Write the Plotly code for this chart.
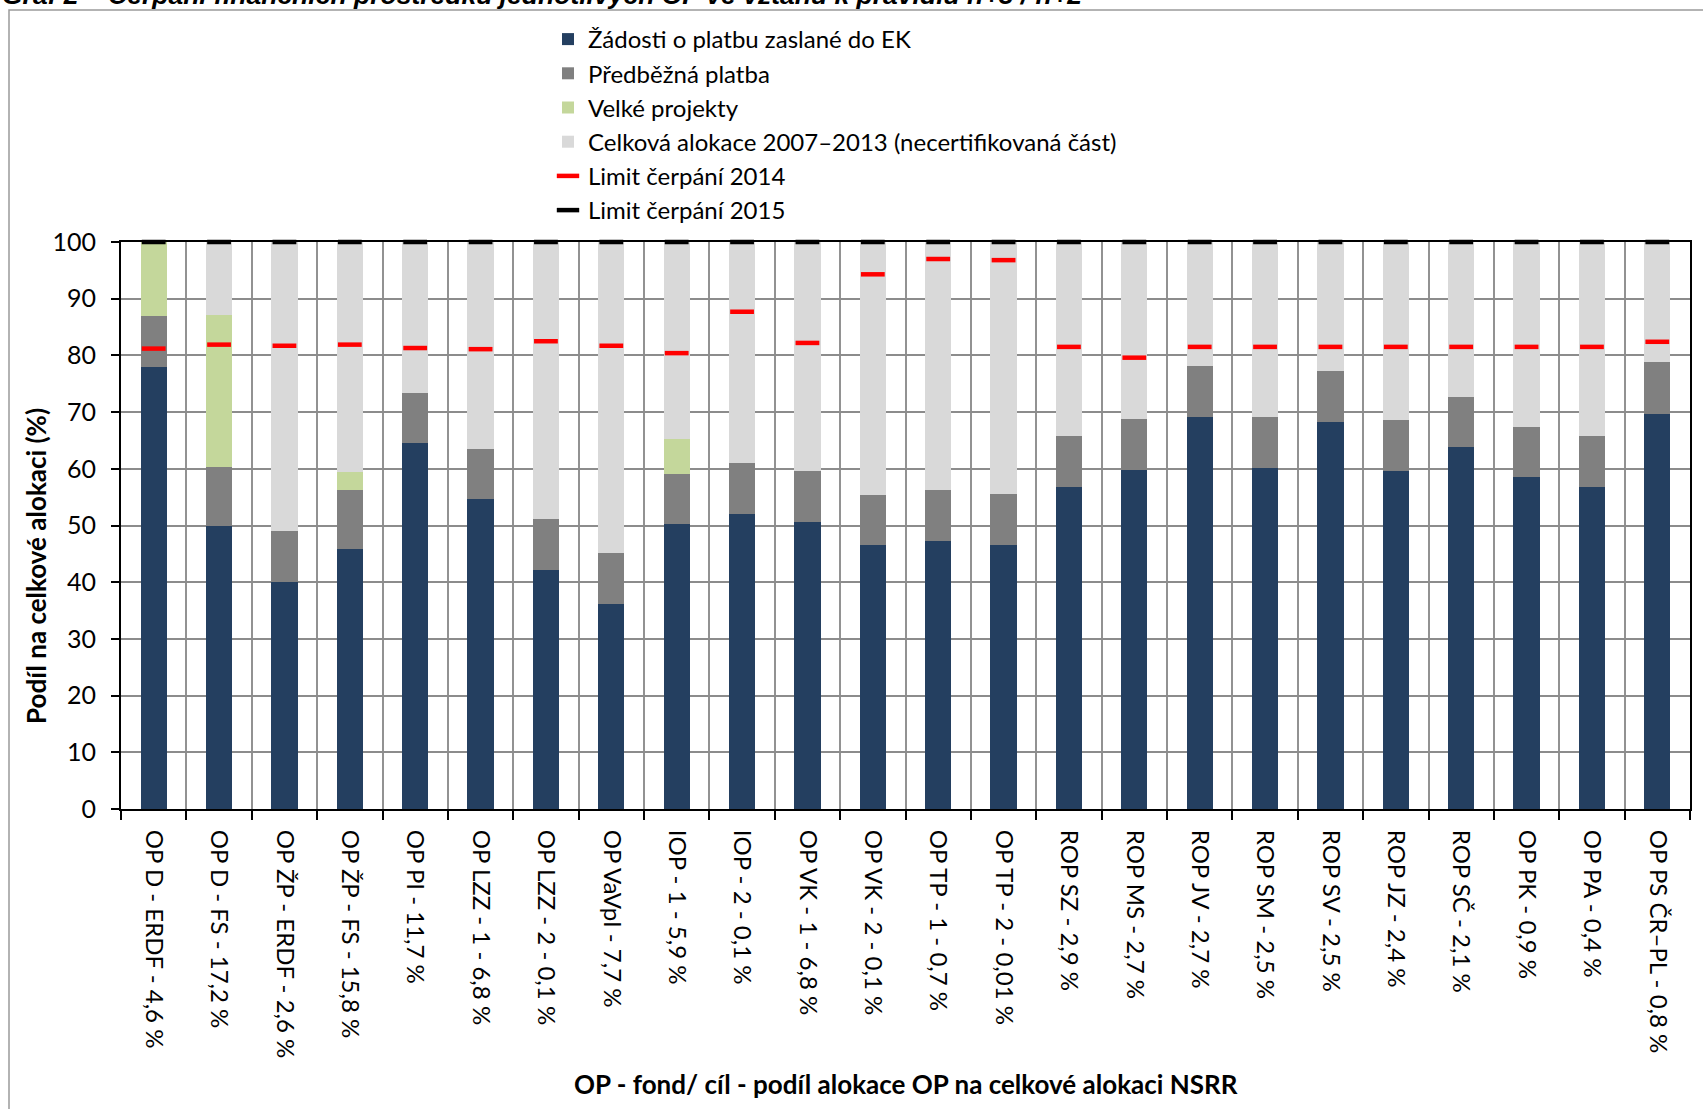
import plotly.graph_objects as go

categories = [
    "OP D - ERDF - 4,6 %", "OP D - FS - 17,2 %", "OP ŽP - ERDF - 2,6 %", "OP ŽP - FS - 15,8 %",
    "OP PI - 11,7 %", "OP LZZ - 1 - 6,8 %", "OP LZZ - 2 - 0,1 %", "OP VaVpI - 7,7 %",
    "IOP - 1 - 5,9 %", "IOP - 2 - 0,1 %", "OP VK - 1 - 6,8 %", "OP VK - 2 - 0,1 %",
    "OP TP - 1 - 0,7 %", "OP TP - 2 - 0,01 %", "ROP SZ - 2,9 %", "ROP MS - 2,7 %",
    "ROP JV - 2,7 %", "ROP SM - 2,5 %", "ROP SV - 2,5 %", "ROP JZ - 2,4 %",
    "ROP SČ - 2,1 %", "OP PK - 0,9 %", "OP PA - 0,4 %", "OP PS ČR–PL - 0,8 %",
]

zadosti = [78.0, 49.9, 40.1, 45.9, 64.5, 54.6, 42.1, 36.1, 50.2, 52.1, 50.6, 46.5,
           47.3, 46.5, 56.8, 59.8, 69.2, 60.1, 68.3, 59.7, 63.8, 58.5, 56.8, 69.7]
predbezna = [8.9, 10.4, 9.0, 10.4, 8.9, 8.9, 9.1, 9.1, 8.9, 9.0, 9.0, 8.9,
             8.9, 9.0, 9.0, 9.0, 8.9, 9.0, 8.9, 8.9, 8.9, 8.9, 9.0, 9.1]
velke = [13.1, 26.9, 0.0, 3.2, 0.0, 0.0, 0.0, 0.0, 6.2, 0.0, 0.0, 0.0,
         0.0, 0.0, 0.0, 0.0, 0.0, 0.0, 0.0, 0.0, 0.0, 0.0, 0.0, 0.0]
necertifikovana = [0.0, 12.8, 50.9, 40.5, 26.6, 36.5, 48.8, 54.8, 34.7, 38.9, 40.4, 44.6,
                   43.8, 44.5, 34.2, 31.2, 21.9, 30.9, 22.8, 31.4, 27.3, 32.6, 34.2, 21.2]
limit_2014 = [81.2, 81.9, 81.7, 81.9, 81.3, 81.1, 82.5, 81.7, 80.4, 87.7, 82.2, 94.3,
              97.0, 96.8, 81.5, 79.6, 81.5, 81.5, 81.5, 81.5, 81.5, 81.5, 81.5, 82.4]
limit_2015 = [100.0] * 24

y_ticks = [0, 10, 20, 30, 40, 50, 60, 70, 80, 90, 100]

FONT = "Lato"
W, H = 1703, 1109
L, R, T, B = 121, 13, 242, 300
PW, PH = W - L - R, H - T - B


def px_x(px):
    return (px - L) / PW


def px_y(py):
    return (H - B - py) / PH


fig = go.Figure()
bar_specs = [
    ("Žádosti o platbu zaslané do EK", zadosti, "#243F60"),
    ("Předběžná platba", predbezna, "#808080"),
    ("Velké projekty", velke, "#C4D79B"),
    ("Celková alokace 2007–2013 (necertifikovaná část)", necertifikovana, "#D9D9D9"),
]
for name, vals, col in bar_specs:
    fig.add_trace(go.Bar(
        x=categories, y=vals, name=name, marker=dict(color=col, line=dict(width=0)),
    ))

fig.add_trace(go.Scatter(
    x=categories, y=limit_2014, mode="markers", name="Limit čerpání 2014",
    marker=dict(symbol="line-ew", size=17, color="#FF0000", line=dict(color="#FF0000", width=4.5)),
    cliponaxis=False,
))
fig.add_trace(go.Scatter(
    x=categories, y=limit_2015, mode="markers", name="Limit čerpání 2015",
    marker=dict(symbol="line-ew", size=17, color="#000000", line=dict(color="#000000", width=4.5)),
    cliponaxis=False,
))

fig.update_layout(
    width=W, height=H,
    margin=dict(l=L, r=R, t=T, b=B, autoexpand=False),
    paper_bgcolor="white", plot_bgcolor="white",
    font=dict(family=FONT, color="black", size=24),
    barmode="stack", bargap=0.6,
    legend=dict(
        x=px_x(548), y=px_y(17), xanchor="left", yanchor="top",
        traceorder="normal",
        font=dict(family=FONT, size=24, color="black"),
        bgcolor="rgba(0,0,0,0)",
    ),
    xaxis=dict(
        type="category", range=[-0.5, len(categories) - 0.5],
        tickson="boundaries", tickangle=90,
        showgrid=True, gridcolor="#929292", gridwidth=1.5,
        showline=True, linecolor="black", linewidth=2, mirror=True,
        ticks="outside", ticklen=9, tickcolor="black", tickwidth=1.5,
        tickfont=dict(family=FONT, size=24, color="black"), ticklabelstandoff=14,
        automargin=False,
    ),
    yaxis=dict(
        range=[0, 100], tickvals=y_ticks, showgrid=True, gridcolor="#8C8C8C", gridwidth=2,
        showline=True, linecolor="black", linewidth=2, mirror=True,
        ticks="outside", ticklen=8, tickcolor="black", tickwidth=1.5,
        tickfont=dict(family=FONT, size=25, color="black"), ticklabelstandoff=10,
        zeroline=False, automargin=False,
    ),
)

# axis titles
fig.add_annotation(
    text="<b>Podíl na celkové alokaci (%)</b>", textangle=-90,
    xref="paper", yref="paper", x=px_x(36), y=px_y(566), xanchor="center", yanchor="middle",
    showarrow=False, font=dict(family=FONT, size=26, color="black"),
)
fig.add_annotation(
    text="<b>OP - fond/ cíl - podíl alokace OP na celkové alokaci NSRR</b>",
    xref="paper", yref="paper", x=px_x(906), y=px_y(1084), xanchor="center", yanchor="middle",
    showarrow=False, font=dict(family=FONT, size=26, color="black"),
)

# chart-area frame
fig.add_shape(type="rect", xref="paper", yref="paper",
              x0=px_x(9), x1=px_x(1720), y0=px_y(1130), y1=px_y(10),
              line=dict(color="#9A9A9A", width=1.5), fillcolor="rgba(0,0,0,0)", layer="below")

# page heading, cut at the top edge
fig.add_annotation(
    text="<b><i>Graf 2 – Čerpání finančních prostředků jednotlivých OP ve vztahu k pravidlu n+3 / n+2</i></b>",
    xref="paper", yref="paper", x=px_x(0), y=px_y(12), xanchor="left", yanchor="bottom",
    showarrow=False, font=dict(family="Liberation Sans", size=26.5, color="black"),
)

fig.write_html("out.html", config={"displayModeBar": False},
               post_script="document.body.style.margin='0';")
